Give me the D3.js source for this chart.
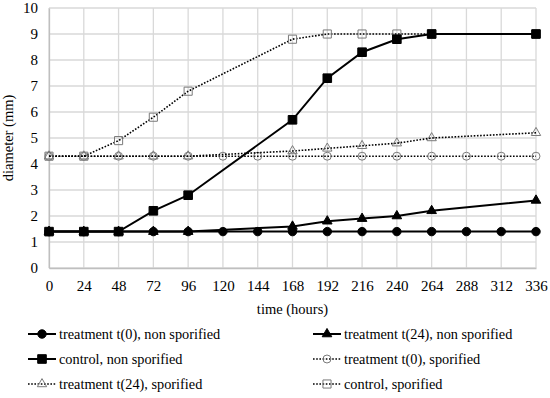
<!DOCTYPE html>
<html>
<head>
<meta charset="utf-8">
<script src="https://cdn.jsdelivr.net/npm/d3@7"></script>
<style>
body { margin: 0; background: #fff; }
svg text { font-family: "Liberation Serif", "DejaVu Serif", serif !important; }
</style>
</head>
<body>
<svg id="chart"></svg>
<script>
var width = 550
var height = 398

// hours on the x axis
var hours = [0, 24, 48, 72, 96, 120, 144, 168, 192, 216, 240, 264, 288, 312, 336]
var yTicks = [0, 1, 2, 3, 4, 5, 6, 7, 8, 9, 10]

// each series: [hour, diameter]
var t0NonSpor = [[0,1.4],[24,1.4],[48,1.4],[72,1.4],[96,1.4],[120,1.4],[144,1.4],[168,1.4],[192,1.4],[216,1.4],[240,1.4],[264,1.4],[288,1.4],[312,1.4],[336,1.4]]
var t24NonSpor = [[0,1.4],[24,1.4],[48,1.4],[72,1.4],[96,1.4],[168,1.6],[192,1.8],[216,1.9],[240,2.0],[264,2.2],[336,2.6]]
var controlNonSpor = [[0,1.4],[24,1.4],[48,1.4],[72,2.2],[96,2.8],[168,5.7],[192,7.3],[216,8.3],[240,8.8],[264,9.0],[336,9.0]]
var t0Spor = [[0,4.3],[24,4.3],[48,4.3],[72,4.3],[96,4.3],[120,4.3],[144,4.3],[168,4.3],[192,4.3],[216,4.3],[240,4.3],[264,4.3],[288,4.3],[312,4.3],[336,4.3]]
var t24Spor = [[0,4.3],[24,4.3],[48,4.3],[72,4.3],[96,4.3],[168,4.5],[192,4.6],[216,4.7],[240,4.8],[264,5.0],[336,5.2]]
var controlSpor = [[0,4.3],[24,4.3],[48,4.9],[72,5.8],[96,6.8],[168,8.8],[192,9.0],[216,9.0],[240,9.0],[264,9.0],[336,9.0]]

var seriesNames = ["treatment t(0), non sporified", "treatment t(24), non sporified",
  "control, non sporified", "treatment t(0), sporified",
  "treatment t(24), sporified", "control, sporified"]

var series = [
  {name: seriesNames[0], values: t0NonSpor, symbol: "circle", filled: true},
  {name: seriesNames[1], values: t24NonSpor, symbol: "triangle", filled: true},
  {name: seriesNames[2], values: controlNonSpor, symbol: "square", filled: true},
  {name: seriesNames[3], values: t0Spor, symbol: "circle", filled: false},
  {name: seriesNames[4], values: t24Spor, symbol: "triangle", filled: false},
  {name: seriesNames[5], values: controlSpor, symbol: "square", filled: false}
]

var svg = d3.select("#chart")
  .attr("width", width)
  .attr("height", height)

var plotL = 49, plotR = 536, plotT = 8, plotB = 268

var x = d3.scaleLinear().domain([0, 336]).range([plotL, plotR])
var y = d3.scaleLinear().domain([0, 10]).range([plotB, plotT])

// grid
svg.append("g")
  .selectAll("line")
  .data(hours)
  .join("line")
  .attr("x1", function(d){ return x(d) })
  .attr("x2", function(d){ return x(d) })
  .attr("y1", plotT)
  .attr("y2", plotB)
  .attr("stroke", "#d9d9d9")
  .attr("stroke-width", 1.3)

svg.append("g")
  .selectAll("line")
  .data(yTicks)
  .join("line")
  .attr("x1", plotL)
  .attr("x2", plotR)
  .attr("y1", function(d){ return y(d) })
  .attr("y2", function(d){ return y(d) })
  .attr("stroke", "#d9d9d9")
  .attr("stroke-width", 1.3)

// axes
var xAxis = svg.append("g")
  .attr("transform", "translate(0," + plotB + ")")
  .call(d3.axisBottom(x).tickValues(hours).tickSize(0).tickPadding(12))
xAxis.attr("font-size", 15)
xAxis.select(".domain").attr("stroke", "#bfbfbf").attr("stroke-width", 1.3)

var yAxis = svg.append("g")
  .attr("transform", "translate(" + plotL + ",0)")
  .call(d3.axisLeft(y).tickValues(yTicks).tickSize(0).tickPadding(11))
yAxis.attr("font-size", 15)
yAxis.select(".domain").attr("stroke", "#bfbfbf").attr("stroke-width", 1.3)

svg.append("text")
  .attr("x", (plotL + plotR) / 2)
  .attr("y", 314)
  .attr("text-anchor", "middle")
  .attr("font-size", 14.5)
  .text("time (hours)")

svg.append("text")
  .attr("transform", "translate(13," + ((plotT + plotB) / 2) + ") rotate(-90)")
  .attr("text-anchor", "middle")
  .attr("font-size", 14.5)
  .text("diameter (mm)")

var line = d3.line()
  .x(function(d){ return x(d[0]) })
  .y(function(d){ return y(d[1]) })

function drawMarker(g, s) {
  var sym = s.symbol == "circle" ? d3.symbolCircle : (s.symbol == "square" ? d3.symbolSquare : d3.symbolTriangle)
  var size
  if (s.filled) size = s.symbol == "circle" ? 56 : (s.symbol == "square" ? 74 : 40)
  else size = s.symbol == "circle" ? 50 : (s.symbol == "square" ? 66 : 38)
  g.append("path")
    .attr("d", d3.symbol().type(sym).size(size))
    .attr("fill", s.filled ? "#000" : "none")
    .attr("stroke", s.filled ? "#000" : "#7a7a7a")
    .attr("stroke-width", 1)
}

// lines: sporified (dotted) first, then solid on top
var order = [3, 4, 5, 0, 1, 2]
order.forEach(function(i){
  var s = series[i]
  var g = svg.append("g")
  g.append("path")
    .datum(s.values)
    .attr("d", line)
    .attr("fill", "none")
    .attr("stroke", "#000")
    .attr("stroke-width", s.filled ? 2 : 1.6)
    .attr("stroke-dasharray", s.filled ? null : "1.6,1.6")
  g.selectAll("g.pt")
    .data(s.values)
    .join("g")
    .attr("class", "pt")
    .attr("transform", function(d){ return "translate(" + x(d[0]) + "," + y(d[1]) + ")" })
    .each(function(){ drawMarker(d3.select(this), s) })
})

// legend
var legX = [28, 313]
var legY = [334, 359, 384]
series.forEach(function(s, i){
  var lx = legX[i % 2]
  var ly = legY[Math.floor(i / 2)]
  var g = svg.append("g").attr("transform", "translate(" + lx + "," + ly + ")")
  g.append("line")
    .attr("x1", 0).attr("x2", 28)
    .attr("y1", 0).attr("y2", 0)
    .attr("stroke", "#000")
    .attr("stroke-width", s.filled ? 2 : 1.6)
    .attr("stroke-dasharray", s.filled ? null : "1.6,1.6")
  var mg = g.append("g").attr("transform", "translate(14,0)")
  drawMarker(mg, s)
  g.append("text")
    .attr("x", 31)
    .attr("y", 5)
    .attr("font-size", 14.3)
    .text(s.name)
})
</script>
</body>
</html>
